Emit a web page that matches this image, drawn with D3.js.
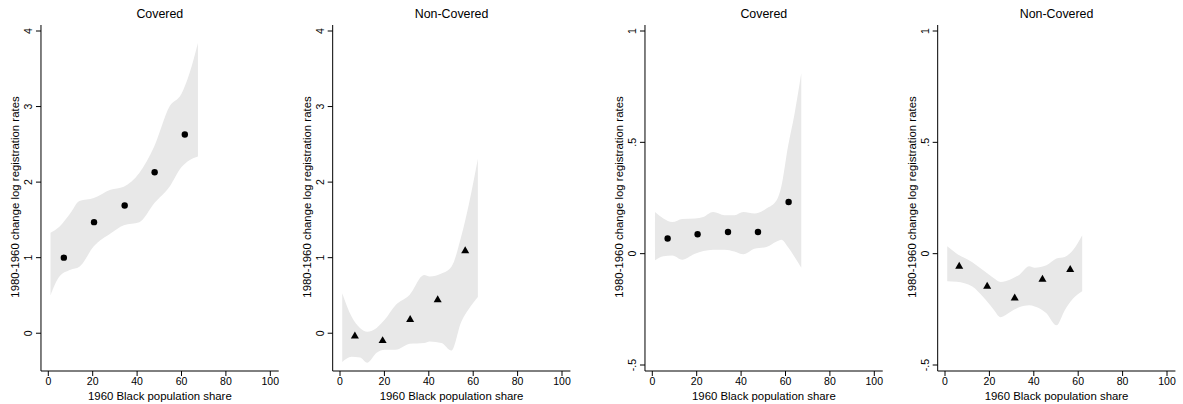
<!doctype html>
<html lang="en">
<head>
  <meta charset="utf-8">
  <script src="https://d3js.org/d3.v7.min.js"></script>
  <title>Registration rates by 1960 Black population share</title>
  <style>
    body { margin: 0; background: #fff; }
    svg { font-family: "Liberation Sans", Arial, sans-serif; }
  </style>
</head>
<body>
  <svg id="chart" width="1183" height="404"></svg>
  <script>
    // panel titles and tick labels
    var titles = ["Covered", "Non-Covered", "Covered", "Non-Covered"];
    var xTicks = [0, 20, 40, 60, 80, 100];
    var yTicksA = [0, 1, 2, 3, 4];
    var yTicksB = [-0.5, 0, 0.5, 1];

    // panel 1: covered, left pair
    var p1X = [7.0, 20.6, 34.4, 47.9, 61.5];
    var p1Y = [1.00, 1.47, 1.69, 2.13, 2.63];
    var p1BandX = [1, 5, 10, 14, 20.5, 28, 34, 41, 47.7, 54.6, 60, 63.6, 67.4];
    var p1Hi = [1.33, 1.41, 1.59, 1.75, 1.79, 1.90, 1.94, 2.12, 2.47, 3.00, 3.17, 3.44, 3.84];
    var p1Lo = [0.50, 0.75, 0.84, 0.88, 1.15, 1.32, 1.43, 1.47, 1.72, 1.94, 2.20, 2.29, 2.34];

    // panel 2: non-covered, left pair
    var p2X = [6.7, 19.2, 31.6, 44.0, 56.4];
    var p2Y = [-0.04, -0.10, 0.18, 0.44, 1.09];
    var p2BandX = [1, 5.2, 9, 12.3, 16.5, 20.2, 25, 31.4, 37.9, 40.4, 45.7, 50.2, 54.6, 58, 62.1];
    var p2Hi = [0.53, 0.22, 0.07, 0.02, 0.07, 0.18, 0.37, 0.51, 0.77, 0.75, 0.79, 0.88, 1.28, 1.70, 2.31];
    var p2Lo = [-0.38, -0.31, -0.32, -0.39, -0.26, -0.22, -0.22, -0.14, -0.13, -0.11, -0.13, -0.23, 0.15, 0.32, 0.48];

    // panel 3: covered, right pair
    var p3X = [6.9, 20.4, 34.1, 47.6, 61.4];
    var p3Y = [0.068, 0.087, 0.097, 0.097, 0.232];
    var p3BandX = [1.2, 5, 9, 13.5, 19.2, 23, 27.4, 32.6, 37, 41, 46, 51.4, 56, 58.1, 61.1, 64.1, 67.1];
    var p3Hi = [0.187, 0.158, 0.142, 0.156, 0.158, 0.165, 0.187, 0.173, 0.173, 0.187, 0.18, 0.203, 0.24, 0.30, 0.48, 0.63, 0.81];
    var p3Lo = [-0.03, -0.012, -0.008, -0.027, 0.0, 0.012, 0.018, 0.018, 0.01, -0.003, 0.022, 0.03, 0.055, 0.063, 0.03, -0.015, -0.063];

    // panel 4: non-covered, right pair
    var p4X = [6.4, 19.0, 31.4, 43.9, 56.4];
    var p4Y = [-0.057, -0.147, -0.20, -0.116, -0.072];
    var p4BandX = [1, 5.3, 12.3, 17.2, 21.7, 25.1, 29.2, 33.7, 37.9, 40.4, 45.7, 50.2, 53.9, 57.6, 61.8];
    var p4Hi = [0.033, 0.0, -0.038, -0.075, -0.108, -0.127, -0.117, -0.093, -0.057, -0.063, -0.052, -0.022, -0.015, 0.015, 0.083];
    var p4Lo = [-0.124, -0.126, -0.148, -0.195, -0.248, -0.285, -0.263, -0.24, -0.232, -0.237, -0.268, -0.322, -0.255, -0.203, -0.169];

    var panels = [
      { x0: 48.3, yDom: [-0.5, 4], yRange: [371, 31], ticks: yTicksA, px: p1X, py: p1Y, bx: p1BandX, hi: p1Hi, lo: p1Lo, marker: "circle" },
      { x0: 340, yDom: [-0.5, 4], yRange: [371, 31], ticks: yTicksA, px: p2X, py: p2Y, bx: p2BandX, hi: p2Hi, lo: p2Lo, marker: "triangle" },
      { x0: 652.3, yDom: [-0.5, 1], yRange: [365, 31], ticks: yTicksB, px: p3X, py: p3Y, bx: p3BandX, hi: p3Hi, lo: p3Lo, marker: "circle" },
      { x0: 945, yDom: [-0.5, 1], yRange: [365, 31], ticks: yTicksB, px: p4X, py: p4Y, bx: p4BandX, hi: p4Hi, lo: p4Lo, marker: "triangle" }
    ];

    var svg = d3.select("#chart");
    var axisTop = 25, axisY = 371;
    var fmt = function(v) { return v === 0 ? "0" : String(v).replace("0.", "."); };

    panels.forEach(function(p, i) {
      var x = d3.scaleLinear().domain([0, 100]).range([p.x0, p.x0 + 222]);
      var y = d3.scaleLinear().domain(p.yDom).range(p.yRange);
      var axisX = x(-3.3);
      var right = x(103.8);
      var g = svg.append("g");

      // confidence band
      var band = p.bx.map(function(v, k) { return { x: v, lo: p.lo[k], hi: p.hi[k] }; });
      g.append("path")
        .datum(band)
        .attr("fill", "#e8e8e8")
        .attr("d", d3.area()
          .x(function(d) { return x(d.x); })
          .y0(function(d) { return y(d.lo); })
          .y1(function(d) { return y(d.hi); })
          .curve(d3.curveMonotoneX));

      // markers
      var pts = p.px.map(function(v, k) { return [v, p.py[k]]; });
      if (p.marker === "circle") {
        g.selectAll("circle.pt").data(pts).enter().append("circle")
          .attr("cx", function(d) { return x(d[0]); })
          .attr("cy", function(d) { return y(d[1]); })
          .attr("r", 3.2)
          .attr("fill", "#000");
      } else {
        g.selectAll("path.pt").data(pts).enter().append("path")
          .attr("transform", function(d) { return "translate(" + x(d[0]) + "," + y(d[1]) + ")"; })
          .attr("d", d3.symbol().type(d3.symbolTriangle).size(28))
          .attr("fill", "#000");
      }

      // x axis
      g.append("line").attr("x1", axisX).attr("x2", right).attr("y1", axisY).attr("y2", axisY)
        .attr("stroke", "#000").attr("stroke-width", 1);
      xTicks.forEach(function(t) {
        g.append("line").attr("x1", x(t)).attr("x2", x(t)).attr("y1", axisY).attr("y2", axisY + 5)
          .attr("stroke", "#000");
        g.append("text").attr("x", x(t)).attr("y", axisY + 14)
          .attr("text-anchor", "middle").style("font-size", "10.5px").text(t);
      });
      g.append("text").attr("x", (axisX + right) / 2).attr("y", axisY + 29)
        .attr("text-anchor", "middle").style("font-size", "11.4px").text("1960 Black population share");

      // y axis
      g.append("line").attr("x1", axisX).attr("x2", axisX).attr("y1", axisTop).attr("y2", axisY)
        .attr("stroke", "#000").attr("stroke-width", 1);
      p.ticks.forEach(function(t) {
        g.append("line").attr("x1", axisX - 5).attr("x2", axisX).attr("y1", y(t)).attr("y2", y(t))
          .attr("stroke", "#000");
        g.append("text")
          .attr("transform", "translate(" + (axisX - 9) + "," + y(t) + ") rotate(-90)")
          .attr("text-anchor", "middle").style("font-size", "10.5px").text(fmt(t));
      });
      g.append("text")
        .attr("transform", "translate(" + (axisX - 22) + "," + 197 + ") rotate(-90)")
        .attr("text-anchor", "middle").style("font-size", "11.4px")
        .text("1980-1960 change log registration rates");

      // title
      g.append("text").attr("x", (axisX + right) / 2).attr("y", 18)
        .attr("text-anchor", "middle").style("font-size", "12.4px").text(titles[i]);
    });
  </script>
</body>
</html>
